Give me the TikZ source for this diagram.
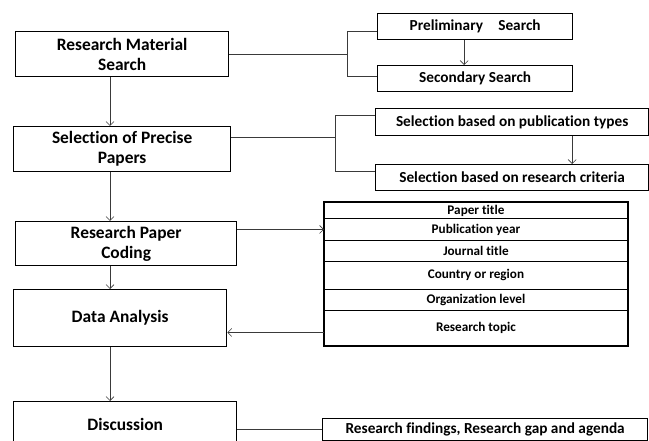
\documentclass[tikz,border=0pt]{standalone}
\usepackage{fontspec}
\setmainfont{Carlito}[Ligatures=CommonOff]
\usepackage{tikz}
\usetikzlibrary{positioning, arrows.meta, calc}
\definecolor{edge}{HTML}{3A3A3A}

\begin{document}
\begin{tikzpicture}[x=1pt, y=-1pt,
        every node/.style={font=\bfseries},
        stage/.style={rectangle, draw=black, line width=1.3pt, anchor=north west,
          inner sep=0pt, align=center, font=\fontsize{17.4}{20}\selectfont\bfseries},
        sub/.style={stage, font=\fontsize{15.3}{17}\selectfont\bfseries},
        field/.style={rectangle, draw=black, line width=0.9pt, anchor=north west,
          inner sep=0pt, minimum width=303pt, font=\fontsize{13.2}{15}\selectfont\bfseries},
        link/.style={line width=0.7pt, color=edge},
        arr/.style={link, -{Straight Barb[length=4pt, width=8pt, line width=0.6pt]}}]

      \useasboundingbox (0,0) rectangle (649,441);
      \clip (0,0) rectangle (649,441);

      % left column
      \node[stage, minimum width=213pt, minimum height=45pt] (search) at (15,31)
        {Research Material\\Search};
      \node[stage, minimum width=217pt, minimum height=45pt] (select) at (13,126)
        {Selection of Precise\\Papers};
      \node[stage, minimum width=221pt, minimum height=44pt] (coding) at (15,221)
        {Research Paper\\Coding};
      \node[stage, minimum width=213pt, minimum height=57pt] (analysis) at (13,289)
        {Data Analysis};
      \node[stage, minimum width=223pt, minimum height=46pt] (discuss) at (13,401)
        {Discussion};
      \coordinate (col) at (110,0);

      % right column
      \node[sub, minimum width=195pt, minimum height=26pt] (prelim) at (377,13)
        {Preliminary\hspace{1em}Search};
      \node[sub, minimum width=195pt, minimum height=26pt] (second) at (377,65)
        {Secondary Search};
      \node[sub, minimum width=273pt, minimum height=27pt] (pubtype) at (375,108)
        {Selection based on publication types};
      \node[sub, minimum width=273pt, minimum height=26pt] (criteria) at (375,164)
        {Selection based on research criteria};
      \node[sub, minimum width=325pt, minimum height=22pt] (findings) at (322,418)
        {Research findings, Research gap and agenda};

      % coding table
      \node[field, minimum height=16pt] (fA) at (324,202) {Paper title};
      \node[field, minimum height=22pt] (fB) at (324,218) {Publication year};
      \node[field, minimum height=21pt] (fC) at (324,240) {Journal title};
      \node[field, minimum height=28pt] (fD) at (324,261) {Country or region};
      \node[field, minimum height=21pt] (fE) at (324,289) {Organization level};
      \node[field, minimum height=35pt] (fF) at (324,310) {Research topic};
      \draw[line width=1.3pt] (fA.north west) rectangle (fF.south east);

      % main flow
      \draw[arr] (search.south -| col) -- (select.north -| col);
      \draw[arr] (select.south -| col) -- (coding.north -| col);
      \draw[arr] (coding.south -| col) -- (analysis.north -| col);
      \draw[arr] (analysis.south -| col) -- (discuss.north -| col);

      % branches
      \draw[link] (search.east) -- ++(118,0) coordinate (b1);
      \draw[link] ([yshift=-5pt]prelim.west) -| (b1) |- ([yshift=2pt]second.west);
      \draw[arr] ([xshift=-11pt]prelim.south) -- ([xshift=-11pt]second.north);
      \draw[link] ([yshift=11.5pt]select.east) -- ++(104,0) coordinate (b2);
      \draw[link] ([yshift=6.5pt]pubtype.west) -| (b2) |- ([yshift=6pt]criteria.west);
      \draw[arr] ([xshift=60pt]pubtype.south) -- ([xshift=60pt]criteria.north);
      \draw[arr] (coding.east |- fB.west) -- (fB.west);
      \draw[arr] ([yshift=-4.5pt]fF.west) -- ([yshift=-4.5pt]fF.west -| analysis.east);
      \draw[link] (discuss.east |- findings.west) -- (findings.west);
    \end{tikzpicture}
\end{document}
